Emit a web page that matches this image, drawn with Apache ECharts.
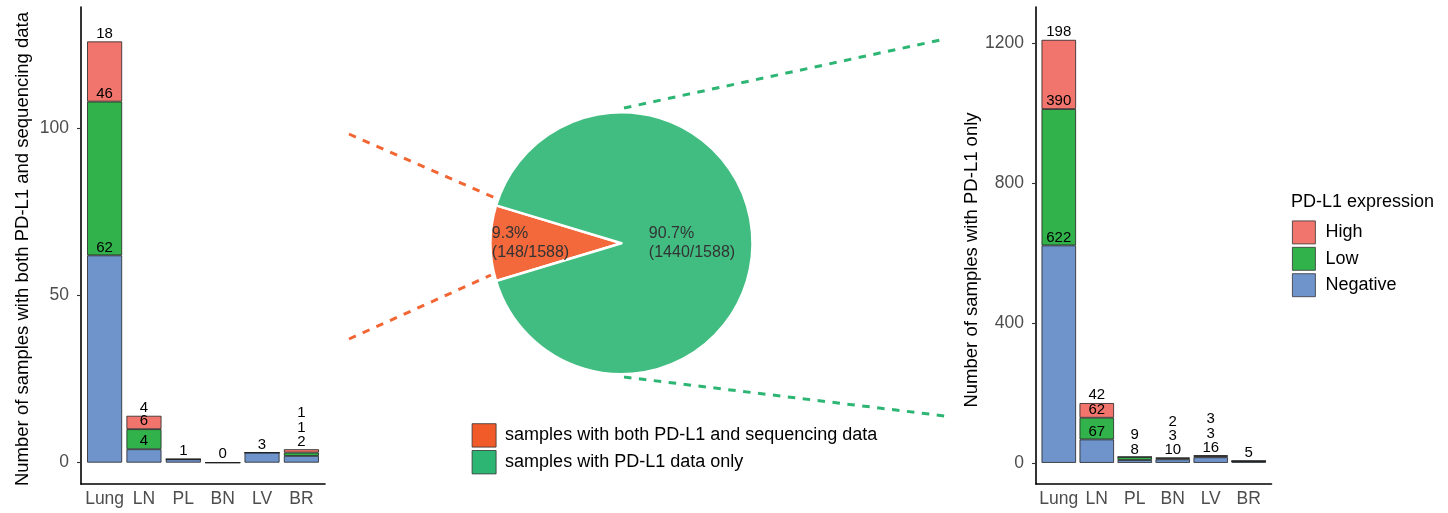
<!DOCTYPE html>
<html>
<head>
<meta charset="utf-8">
<title>PD-L1 samples</title>
<script src="https://cdn.jsdelivr.net/npm/echarts@6/dist/echarts.min.js"></script>
<style>
  html, body { margin: 0; padding: 0; background: #fff; }
  #main { width: 1448px; height: 513px; }
</style>
</head>
<body>
<div id="main"></div>
<script>
// ---- data ----
const sites = ['Lung', 'LN', 'PL', 'BN', 'LV', 'BR'];

// samples with both PD-L1 and sequencing data
const seqNegative = [62, 4, 1, 0, 3, 2];
const seqLow      = [46, 6, 0, 0, 0, 1];
const seqHigh     = [18, 4, 0, 0, 0, 1];

// samples with PD-L1 only
const onlyNegative = [622, 67, 8, 10, 16, 5];
const onlyLow      = [390, 62, 9, 3, 3, 0];
const onlyHigh     = [198, 42, 0, 2, 3, 0];

const pieNames  = ['samples with both PD-L1 and sequencing data', 'samples with PD-L1 data only'];
const pieValues = [148, 1440];

const leftTicks  = [0, 50, 100];
const rightTicks = [0, 400, 800, 1200];

// ---- layout / style ----
const FONT = 'Liberation Sans';
const PANEL_TOP = 7, PANEL_H = 477;
const levelColors = { High: '#F1756D', Low: '#32B24B', Negative: '#6F93CB' };
const pieColors = ['#F3693B', '#41BD82'];
const pieKeyColors = ['#F15A29', '#2CB573'];

// panel frames (ggplot-like: 0.6 band of padding on each side of the categories)
const panels = [
  { left: 81,   width: 244,   yMin: -6.4,  yMax: 136.3, barWidth: 35,
    title: 'Number of samples with both PD-L1 and sequencing data', gap: 49, pad: [0, 7, 0, 0] },
  { left: 1036, width: 235.5, yMin: -60.5, yMax: 1304,  barWidth: 34.5,
    title: 'Number of samples with PD-L1 only', gap: 47, pad: [0, 29, 0, 0] }
];
const panelTicks = [leftTicks, rightTicks];

// decorative zoom lines between the pie and the bar panels
const guideLines = [
  { from: [349, 134], to: [495, 198], color: '#F26634' },
  { from: [349, 339], to: [491, 275], color: '#F26634' },
  { from: [624, 108], to: [945, 39],  color: '#2DB673' },
  { from: [624, 377], to: [945, 416], color: '#2DB673' }
];

function barSeries(axisIdx, neg, low, high, yMin, yMax, barWidth) {
  const ppu = PANEL_H / (yMax - yMin);
  const stacks = [neg, low, high];
  const names = ['Negative', 'Low', 'High'];
  const show = stacks.map(() => []);
  const offs = stacks.map(() => []);
  sites.forEach((s, i) => {
    let total = 0;
    const tops = stacks.map(arr => (total += arr[i]));
    const shown = [0, 1, 2].filter(k => stacks[k][i] > 0 || (k === 0 && total === 0));
    const nat = k => tops[k] * ppu + 8;
    let crowded = false;
    for (let j = 1; j < shown.length; j++) {
      if (nat(shown[j]) - nat(shown[j - 1]) < 12) crowded = true;
    }
    [0, 1, 2].forEach(k => { show[k][i] = shown.includes(k); offs[k][i] = 0; });
    if (crowded) {
      shown.forEach((k, j) => {
        const a = total * ppu + 7.5 + j * 14.3;
        offs[k][i] = -(a - nat(k));
      });
    }
  });
  return names.map((n, k) => ({
    name: n,
    type: 'bar',
    stack: 'st' + axisIdx,
    xAxisIndex: axisIdx,
    yAxisIndex: axisIdx,
    barWidth: barWidth,
    itemStyle: { color: levelColors[n], borderColor: '#222', borderWidth: 0.8 },
    label: { position: 'top', distance: 0.5, fontSize: 15, color: '#000', fontFamily: FONT },
    emphasis: { disabled: true },
    data: stacks[k].map((v, i) => ({
      value: v,
      label: { show: show[k][i], offset: [0, offs[k][i]] }
    }))
  }));
}

// each panel uses two grids: a frame grid (axis lines, y ticks, title)
// and an inner grid holding the category bars
const grids = [], xAxes = [], yAxes = [];
panels.forEach((p, pi) => {
  const band = p.width / 6.2;
  grids.push({ left: p.left, top: PANEL_TOP, width: p.width, height: PANEL_H });
  grids.push({ left: p.left + 0.1 * band, top: PANEL_TOP, width: 6 * band, height: PANEL_H });
  const frameIdx = pi * 2, innerIdx = pi * 2 + 1;
  xAxes.push({
    type: 'value', gridIndex: frameIdx, min: 0, max: 1,
    splitLine: { show: false }, axisTick: { show: false }, axisLabel: { show: false },
    axisLine: { onZero: false, lineStyle: { color: '#000', width: 1.6 } }
  });
  xAxes.push({
    type: 'category', gridIndex: innerIdx, data: sites,
    axisLine: { show: false },
    axisTick: { alignWithLabel: true, interval: 0, length: 4, lineStyle: { color: '#333', width: 1.1 } },
    axisLabel: { interval: 0, color: '#4d4d4d', fontSize: 17.5, margin: 6, fontFamily: FONT }
  });
  yAxes.push({
    type: 'value', gridIndex: frameIdx, min: p.yMin, max: p.yMax,
    name: p.title, nameLocation: 'middle', nameRotate: 90, nameGap: p.gap,
    nameTextStyle: { fontSize: 18.5, color: '#000', fontFamily: FONT, padding: p.pad },
    splitLine: { show: false },
    axisLine: { onZero: false, lineStyle: { color: '#000', width: 1.6 } },
    axisTick: { customValues: panelTicks[pi], length: 4, lineStyle: { color: '#333', width: 1.1 } },
    axisLabel: {
      customValues: panelTicks[pi], formatter: v => String(v),
      color: '#4d4d4d', fontSize: 17.5, margin: 12, fontFamily: FONT
    }
  });
  yAxes.push({
    type: 'value', gridIndex: innerIdx, min: p.yMin, max: p.yMax, show: false
  });
});

const pieTotal = pieValues.reduce((a, b) => a + b, 0);
const pieLabelOffsets = [[-22.5, -0.5], [2, -0.5]];

const chart = echarts.init(document.getElementById('main'));
const option = {
  animation: false,
  backgroundColor: '#fff',
  textStyle: { fontFamily: FONT },
  title: {
    text: 'PD-L1 expression', left: 1291, top: 193, padding: 0,
    textStyle: { fontSize: 18, fontWeight: 'normal', color: '#000', fontFamily: FONT }
  },
  legend: [{
    data: ['High', 'Low', 'Negative'],
    orient: 'vertical', left: 1292, top: 220.5, padding: 0,
    itemWidth: 23, itemHeight: 23, itemGap: 2.6, icon: 'rect',
    selectedMode: false,
    itemStyle: { borderColor: '#333', borderWidth: 0.8 },
    textStyle: { fontSize: 18, color: '#000', fontFamily: FONT, padding: [0, 0, 0, 5] }
  }, {
    data: pieNames.map((n, i) => ({ name: n, itemStyle: { color: pieKeyColors[i] } })),
    orient: 'vertical', left: 471.7, top: 423.3, padding: 0,
    itemWidth: 24, itemHeight: 23.4, itemGap: 2.6, icon: 'rect',
    selectedMode: false,
    itemStyle: { borderColor: '#333', borderWidth: 0.8 },
    textStyle: { fontSize: 18, color: '#000', fontFamily: FONT, padding: [0, 0, 0, 4] }
  }],
  grid: grids,
  xAxis: xAxes,
  yAxis: yAxes,
  graphic: guideLines.map(l => ({
    type: 'line', silent: true, z: 0,
    shape: { x1: l.from[0], y1: l.from[1], x2: l.to[0], y2: l.to[1] },
    style: { stroke: l.color, lineWidth: 3, lineDash: [7.5, 7.5] }
  })),
  series: [
    ...barSeries(1, seqNegative, seqLow, seqHigh, panels[0].yMin, panels[0].yMax, panels[0].barWidth),
    ...barSeries(3, onlyNegative, onlyLow, onlyHigh, panels[1].yMin, panels[1].yMax, panels[1].barWidth),
    {
      type: 'pie', z: 5,
      center: [621.5, 243.2], radius: 131,
      startAngle: 180 + 180 * pieValues[0] / pieTotal,
      clockwise: true,
      avoidLabelOverlap: false,
      emphasis: { disabled: true },
      itemStyle: { borderColor: '#fff', borderWidth: 2.5 },
      labelLine: { show: false },
      label: {
        position: 'inside', align: 'center', color: '#333', fontSize: 16, lineHeight: 19,
        fontFamily: FONT,
        formatter: p => '{a|' + p.percent.toFixed(1) + '%}\n{a|(' + p.value + '/' + pieTotal + ')}',
        rich: { a: { align: 'left', fontSize: 16, lineHeight: 19, color: '#333', fontFamily: FONT } }
      },
      data: pieNames.map((n, i) => ({
        name: n, value: pieValues[i],
        itemStyle: { color: pieColors[i] },
        label: { offset: pieLabelOffsets[i] }
      }))
    }
  ]
};
chart.setOption(option);
</script>
</body>
</html>
